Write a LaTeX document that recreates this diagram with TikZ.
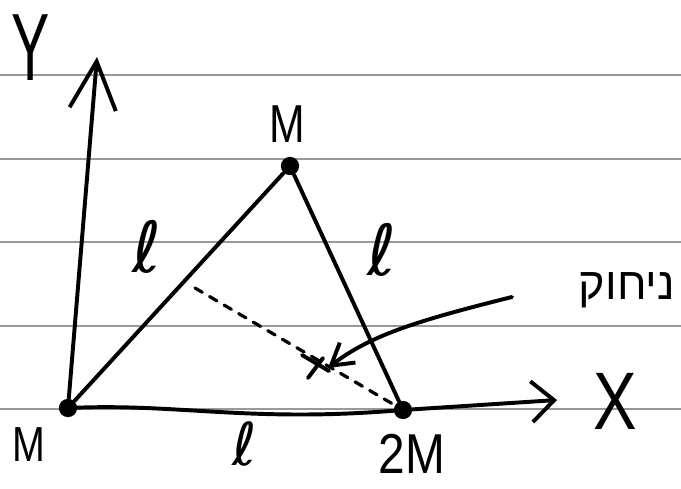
\documentclass[tikz,border=0pt]{standalone}
\usepackage{fontspec}
\setmainfont{Liberation Sans}
\newfontfamily\hebfont[Script=Hebrew]{Liberation Sans}
\newfontfamily\ellfont{DejaVu Sans}
\TeXXeTstate=1
\usetikzlibrary{arrows.meta}

\begin{document}
\begin{tikzpicture}[x=0.025cm,y=-0.025cm,
    pen/.style={line width=2.8pt,line cap=round,line join=round},
    mass/.style={circle,fill=black,inner sep=0pt,minimum size=13pt},
    rule/.style={black!40,line width=1.4pt},
    lab/.style={inner sep=0pt,font=\fontsize{#1}{#1}\selectfont},
    ell/.style={inner sep=0pt,font=\ellfont\fontsize{#1}{#1}\selectfont}]
  \useasboundingbox[fill=white] (0,0) rectangle (681,488);
  % ruled paper
  \foreach \y in {75,159,242,326,409} {
    \draw[rule] (0,\y) -- (681,\y);
  }
  % the three masses
  \node[mass] (mA) at (68,408) {};
  \node[mass] (mB) at (290,166) {};
  \node[mass] (mC) at (403,410) {};
  \coordinate (ytip) at (97,57);
  \coordinate (xtip) at (557,400);
  \coordinate (half) at (195,288);
  \coordinate (cm) at (320,366);
  \coordinate (cmtip) at (328,368);
  \coordinate (notetail) at (512,297);
  % axes
  \draw[pen,-{Straight Barb[length=34pt,width=33pt]}] (mA) -- (ytip);
  \draw[pen,-{Straight Barb[length=16pt,width=29pt]}] (mC) -- (xtip);
  \node[lab=68] (ylab) at (31,48) {\scalebox{0.6}[1]{Y}};
  \node[lab=58] (xlab) at (615,401) {\scalebox{0.8}[1]{X}};
  % triangle
  \draw[pen] (mA) -- (mB) -- (mC);
  \draw[pen] (mA) .. controls (180,404) and (250,422) .. (mC);
  \draw[pen,line width=2.3pt,dash pattern=on 6pt off 6pt] (half) -- (mC);
  \node[lab=38] (mBlab) at (287,124) {\scalebox{0.8}[1]{M}};
  \node[lab=35] (mAlab) at (29,445) {\scalebox{0.8}[1]{M}};
  \node[lab=40] (mClab) at (412,454) {\scalebox{0.85}[1]{2M}};
  \node[ell=50] (sideAB) at (147,247) {ℓ};
  \node[ell=50] (sideBC) at (382,250) {ℓ};
  \node[ell=42] (sideAC) at (245,444) {ℓ};
  % centre of mass
  \draw[pen] ([shift={(-18,-11)}]cm) -- ([shift={(9,5)}]cm);
  \draw[pen] ([shift={(3,-8)}]cm) -- ([shift={(-12,12)}]cm);
  \draw[pen,-{Straight Barb[length=15pt,width=18pt]}] (notetail) .. controls (420,320) and (370,335) .. (cmtip);
  \node[lab=32] (note) at (627,290) {\hebfont\beginR ניחוק\endR};
\end{tikzpicture}
\end{document}
